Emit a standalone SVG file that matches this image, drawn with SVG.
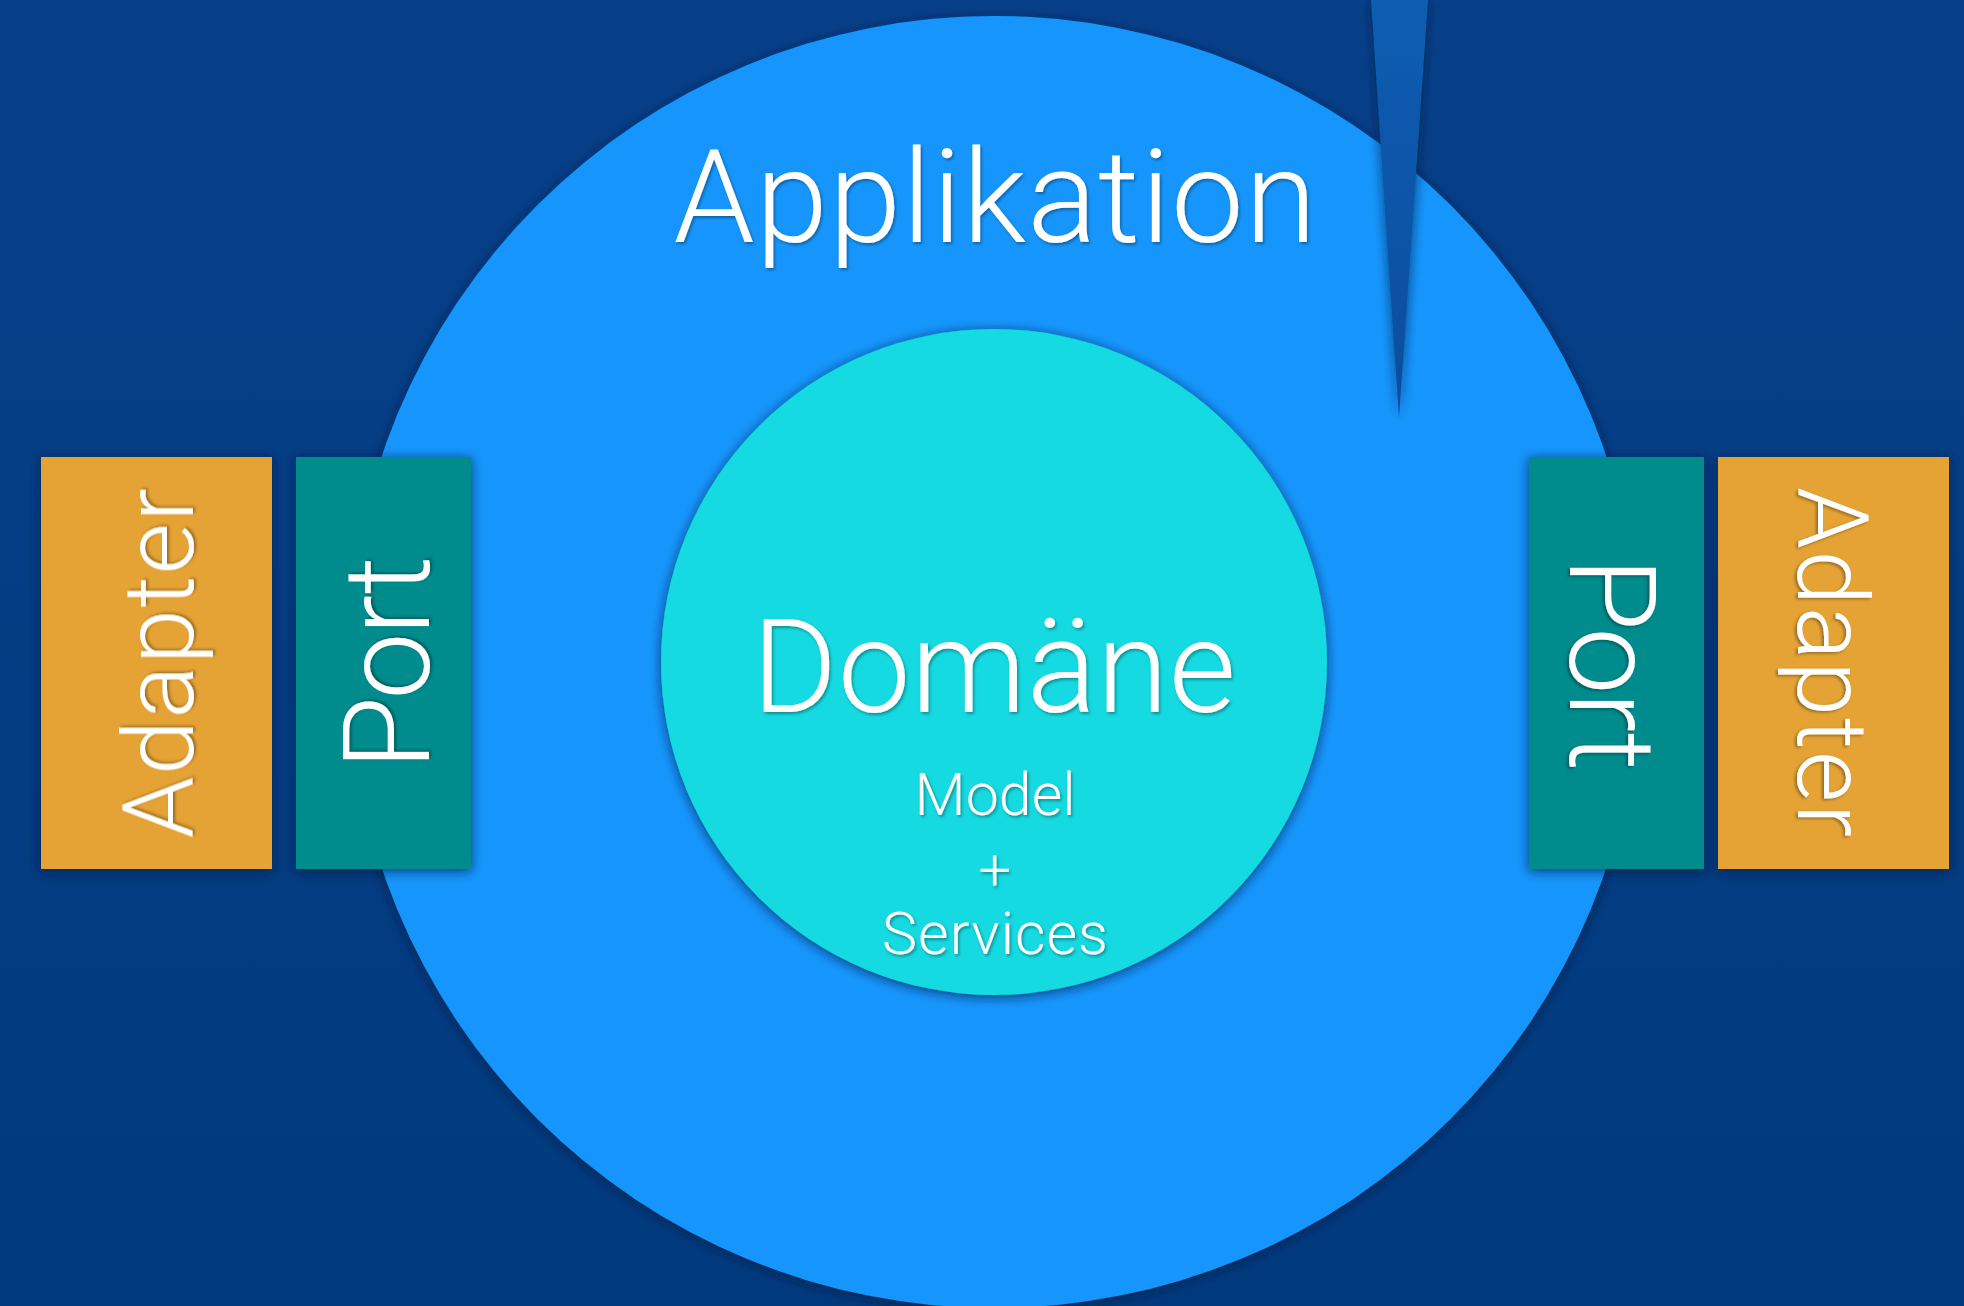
<svg xmlns="http://www.w3.org/2000/svg" width="1964" height="1306" viewBox="0 0 1964 1306">
  <defs>
    <linearGradient id="bg" x1="0" y1="0" x2="0" y2="1">
      <stop offset="0" stop-color="#074089"/>
      <stop offset="1" stop-color="#013a7c"/>
    </linearGradient>
    <linearGradient id="wedge" x1="0" y1="0" x2="0" y2="1">
      <stop offset="0" stop-color="#0a5db2"/>
      <stop offset="1" stop-color="#0a4c9d"/>
    </linearGradient>
    <filter id="shadow" x="-20%" y="-20%" width="140%" height="140%">
      <feDropShadow dx="0" dy="2" stdDeviation="6" flood-color="#001a40" flood-opacity="0.75"/>
    </filter>
    <filter id="tshadow" x="-10%" y="-10%" width="120%" height="120%">
      <feDropShadow dx="1.5" dy="2" stdDeviation="1.5" flood-color="#000000" flood-opacity="0.35"/>
    </filter>
  </defs>
  <style>
    .lbl { font-family: Roboto, "Helvetica Neue", "Liberation Sans", sans-serif; font-weight: 300; fill: #ffffff; text-anchor: middle; filter: url(#tshadow); }
    .adapter { fill: #e5a335; filter: url(#shadow); }
    .port { fill: #018b8d; filter: url(#shadow); }
  </style>
  <rect x="0" y="0" width="1964" height="1306" fill="url(#bg)"/>

  <g id="applikation">
    <circle cx="994" cy="662" r="646" fill="#1496fc" filter="url(#shadow)"/>
    <text class="lbl" x="995" y="242" font-size="130" textLength="643" lengthAdjust="spacing">Applikation</text>
  </g>

  <g id="wedge-node">
    <polygon points="1371,0 1428,0 1399,418" fill="url(#wedge)" filter="url(#shadow)"/>
  </g>

  <g id="domaene">
    <circle cx="994" cy="662" r="333" fill="#12dae1" filter="url(#shadow)"/>
    <text class="lbl" x="994" y="712" font-size="130" textLength="484" lengthAdjust="spacing">Domäne</text>
    <text class="lbl" x="995" y="815" font-size="59" textLength="161" lengthAdjust="spacing">Model</text>
    <text class="lbl" x="995" y="890" font-size="58">+</text>
    <text class="lbl" x="995" y="954" font-size="59" textLength="226" lengthAdjust="spacing">Services</text>
  </g>

  <g id="adapter-left">
    <rect class="adapter" x="41" y="457" width="231" height="412"/>
    <text class="lbl" transform="translate(193,663.5) rotate(-90)" font-size="99" textLength="350" lengthAdjust="spacing">Adapter</text>
  </g>
  <g id="port-left">
    <rect class="port" x="296" y="457" width="175" height="412"/>
    <text class="lbl" transform="translate(429,663) rotate(-90)" font-size="120" textLength="214" lengthAdjust="spacing">Port</text>
  </g>
  <g id="port-right">
    <rect class="port" x="1529" y="457" width="175" height="412"/>
    <text class="lbl" transform="translate(1570,664) rotate(90)" font-size="120" textLength="214" lengthAdjust="spacing">Port</text>
  </g>
  <g id="adapter-right">
    <rect class="adapter" x="1718" y="457" width="231" height="412"/>
    <text class="lbl" transform="translate(1798,662) rotate(90)" font-size="99" textLength="350" lengthAdjust="spacing">Adapter</text>
  </g>

  <g id="connectors"></g>
</svg>
